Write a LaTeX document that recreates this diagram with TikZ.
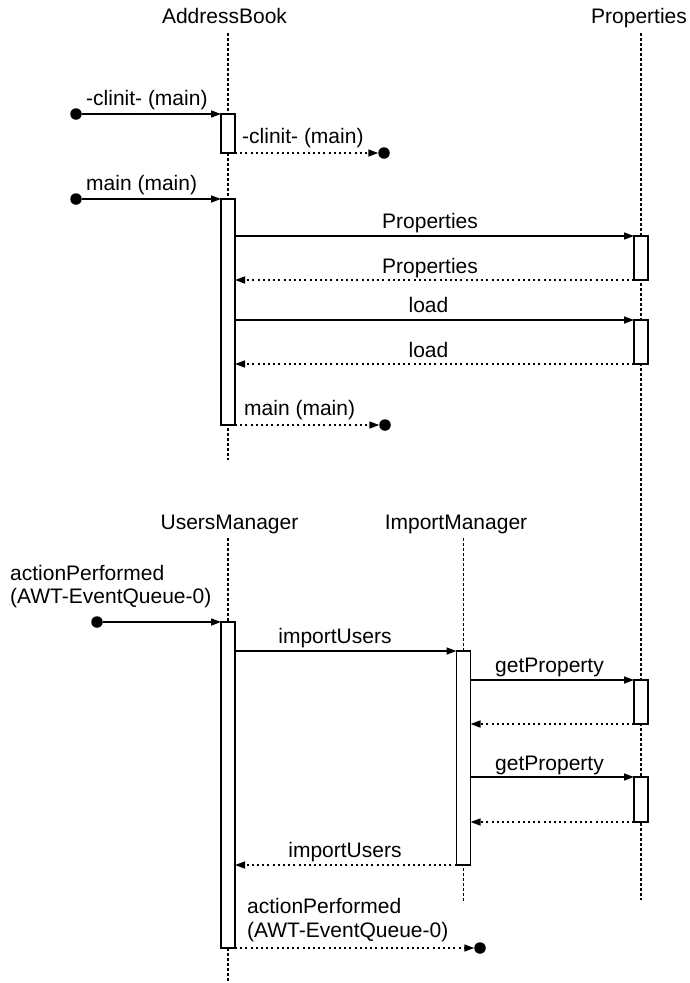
\documentclass[tikz,border=0pt]{standalone}
\usepackage{fontspec}
\setmainfont{Liberation Sans}
\usetikzlibrary{arrows.meta}
\begin{document}
\begin{tikzpicture}[x=1pt,y=-1pt,
  every node/.style={font=\fontsize{21}{23}\selectfont, inner sep=0pt},
  lifeline/.style={line width=1.3pt, dash pattern=on 3pt off 2pt},
  actbox/.style={draw, line width=1.7pt, fill=white, minimum width=14pt, outer sep=0pt},
  dot/.style={circle, fill=black, minimum size=11.5pt, outer sep=0pt},
  call/.style={line width=1.5pt, -{Triangle[length=10pt,width=7pt]}},
  ret/.style={line width=1.5pt, dash pattern=on 2pt off 3.2pt, -{Triangle[length=10pt,width=7pt]}},
  lbl/.style={anchor=base},
  lblw/.style={anchor=base west}]
\useasboundingbox (0,0) rectangle (689,983);

% participants
\node[lbl] (tAB) at (224.5,23) {AddressBook};
\node[lbl] (tPR) at (639,23) {Properties};
\node[lbl] (tUM) at (229.5,529) {UsersManager};
\node[lbl] (tIM) at (456,529) {ImportManager};

% lifelines
\coordinate (abL0) at (228,33);   \coordinate (abL1) at (228,460);
\coordinate (prL0) at (641,33);   \coordinate (prL1) at (641,900);
\coordinate (umL0) at (228,538);  \coordinate (umL1) at (228,983);
\coordinate (imL0) at (463.5,538);\coordinate (imL1) at (463.5,903);
\draw[lifeline] (abL0) -- (abL1);
\draw[lifeline] (prL0) -- (prL1);
\draw[lifeline] (umL0) -- (umL1);
\draw[lifeline] (imL0) -- (imL1);

% activation bars
\node[actbox, minimum height=39pt]  (ab1) at (228,133.5) {};
\node[actbox, minimum height=226pt] (ab2) at (228,312) {};
\node[actbox, minimum height=44pt]  (pr1) at (641,258) {};
\node[actbox, minimum height=44pt]  (pr2) at (641,342) {};
\node[actbox, minimum height=326pt] (um1) at (228,785) {};
\node[actbox, minimum height=214pt] (im1) at (463.5,758) {};
\node[actbox, minimum height=44pt]  (pr3) at (641,702) {};
\node[actbox, minimum height=45pt]  (pr4) at (641,799.5) {};

% entry and exit points
\node[dot] (s1) at (76,114) {};
\node[dot] (e1) at (384,153) {};
\node[dot] (s2) at (76,199) {};
\node[dot] (e2) at (385,425) {};
\node[dot] (s3) at (97,622) {};
\node[dot] (e3) at (480,948) {};

% static initialiser
\draw[call] (s1) -- (ab1.north west);
\node[lblw] (m1) at (86,105) {-clinit- (main)};
\draw[ret] (ab1.south east) -- (e1);
\node[lblw] (m2) at (242,143) {-clinit- (main)};

% main
\draw[call] (s2) -- (ab2.north west);
\node[lblw] (m3) at (86,190) {main (main)};
\draw[call] (ab2.east |- pr1.north) -- (pr1.north west);
\node[lbl] (m4) at (430,228) {Properties};
\draw[ret] (pr1.south west) -- (ab2.east |- pr1.south);
\node[lbl] (m5) at (430,273) {Properties};
\draw[call] (ab2.east |- pr2.north) -- (pr2.north west);
\node[lbl] (m6) at (428.5,312) {load};
\draw[ret] (pr2.south west) -- (ab2.east |- pr2.south);
\node[lbl] (m7) at (428.5,357) {load};
\draw[ret] (ab2.south east) -- (e2);
\node[lblw] (m8) at (244,415) {main (main)};

% actionPerformed
\draw[call] (s3) -- (um1.north west);
\node[lblw] (m9a) at (10,580) {actionPerformed};
\node[lblw] (m9b) at (10,603) {(AWT-EventQueue-0)};
\draw[call] (um1.east |- im1.north) -- (im1.north west);
\node[lbl] (m10) at (335,643) {importUsers};
\draw[call] (im1.east |- pr3.north) -- (pr3.north west);
\node[lbl] (m11) at (549.5,672) {getProperty};
\draw[ret] (pr3.south west) -- (im1.east |- pr3.south);
\draw[call] (im1.east |- pr4.north) -- (pr4.north west);
\node[lbl] (m12) at (549.5,770) {getProperty};
\draw[ret] (pr4.south west) -- (im1.east |- pr4.south);
\draw[ret] (im1.south west) -- (um1.east |- im1.south);
\node[lbl] (m13) at (345,857) {importUsers};
\draw[ret] (um1.south east) -- (e3);
\node[lblw] (m14a) at (247,913) {actionPerformed};
\node[lblw] (m14b) at (247,937) {(AWT-EventQueue-0)};
\end{tikzpicture}
\end{document}
